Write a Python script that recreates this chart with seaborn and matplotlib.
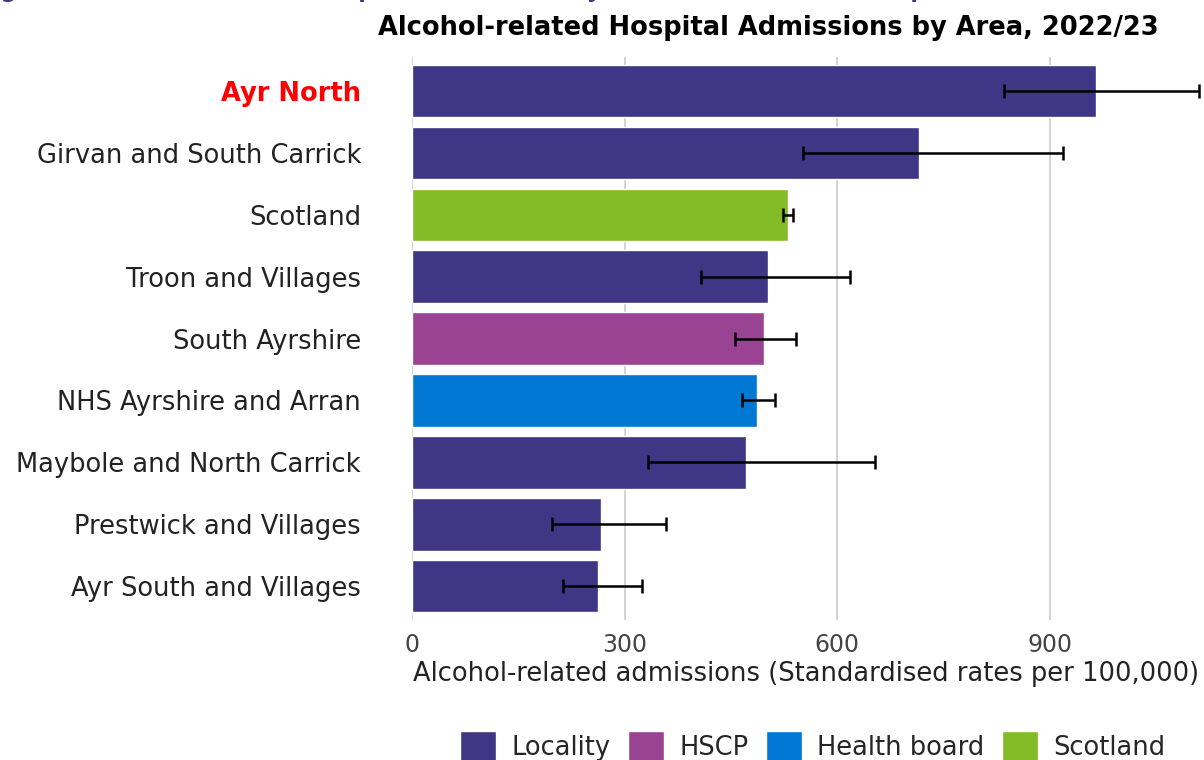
import numpy as np
import pandas as pd
import seaborn as sns
import matplotlib.pyplot as plt
from matplotlib.patches import Patch

# ─── Data ─────────────────────────────────────────────────────────────────────
areas = [
    "Ayr North",
    "Girvan and South Carrick",
    "Scotland",
    "Troon and Villages",
    "South Ayrshire",
    "NHS Ayrshire and Arran",
    "Maybole and North Carrick",
    "Prestwick and Villages",
    "Ayr South and Villages",
]
area_types = ["Locality", "Locality", "Scotland", "Locality", "HSCP",
              "Health board", "Locality", "Locality", "Locality"]
rates = [965, 716, 530, 502, 496, 486, 471, 266, 262]
ci_lower = [835, 551, 523, 407, 456, 465, 332, 197, 212]
ci_upper = [1111, 918, 538, 618, 541, 512, 653, 358, 324]

type_order = ["Locality", "HSCP", "Health board", "Scotland"]
type_colours = {
    "Locality": "#3F3685",
    "HSCP": "#9B4393",
    "Health board": "#0078D4",
    "Scotland": "#83BB26",
}
highlight = "Ayr North"

df = pd.DataFrame({"area": areas, "type": area_types, "rate": rates,
                   "lower": ci_lower, "upper": ci_upper})

# ─── Plot ─────────────────────────────────────────────────────────────────────
sns.set_theme(style="white")
plt.rcParams["font.family"] = ["DejaVu Sans"]

fig = plt.figure(figsize=(12.04, 7.6), dpi=100)
ax = fig.add_axes([0.3426, 0.184, 0.654, 0.741])

sns.barplot(data=df, x="rate", y="area", hue="type", hue_order=type_order,
            palette=type_colours, dodge=False, width=0.85, order=areas,
            saturation=1, legend=False, ax=ax, zorder=2)

ax.errorbar(df["rate"], np.arange(len(df)),
            xerr=[df["rate"] - df["lower"], df["upper"] - df["rate"]],
            fmt="none", ecolor="black", elinewidth=1.8, capsize=5,
            capthick=1.8, zorder=3)

ax.set_xlim(0, 1112)
ax.set_ylim(len(df) - 0.45, -0.55)
ax.set_xticks([0, 300, 600, 900])
ax.grid(axis="x", color="#cccccc", linewidth=1.2, zorder=0)
ax.set_axisbelow(True)
for s in ax.spines.values():
    s.set_visible(False)

ax.tick_params(axis="x", labelsize=17, colors="#444444", length=0, pad=9)
ax.tick_params(axis="y", labelsize=18.5, colors="#222222", length=0, pad=37)
for lbl in ax.get_yticklabels():
    if lbl.get_text() == highlight:
        lbl.set_color("red")
        lbl.set_fontweight("bold")

ax.set_ylabel("")
ax.set_xlabel("Alcohol-related admissions (Standardised rates per 100,000)",
              fontsize=18.5, color="#222222", labelpad=3)

fig.text(0.638, 0.963, "Alcohol-related Hospital Admissions by Area, 2022/23",
         ha="center", va="center", fontsize=18.5, fontweight="bold", color="black")

# clipped report heading at the very top
fig.text(-0.018, 1.003,
         "Figure 21: Alcohol-related hospital admissions by area for the latest time period",
         ha="left", va="baseline", fontsize=16, fontweight="bold", color="#3F3685")

handles = [Patch(facecolor=type_colours[t], label=t) for t in type_order]
fig.legend(handles=handles, loc="center", bbox_to_anchor=(0.675, 0.018),
           ncol=4, frameon=False, fontsize=18.5, handlelength=1.4,
           handleheight=1.4, columnspacing=0.7, handletextpad=0.58)

fig.savefig("out.png", dpi=100)
